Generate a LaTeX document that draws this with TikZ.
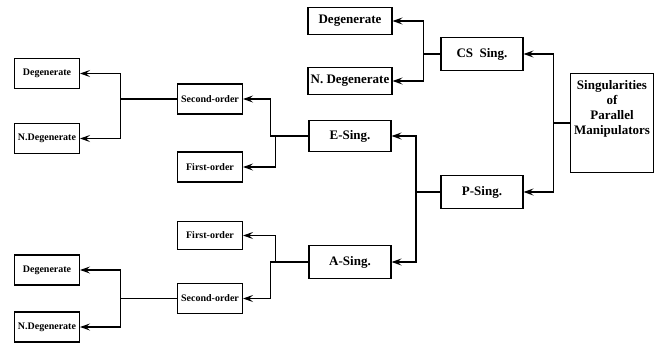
\documentclass[tikz,border=0pt]{standalone}
\usepackage{fontspec}
\setmainfont{Liberation Serif}
\usetikzlibrary{arrows.meta,calc}

\tikzset{
 elbow/.style={edge from parent path={(\tikzparentnode.west) -| ($(\tikzparentnode.west)!#1!(\tikzchildnode.east)$) |- (\tikzchildnode.east)}},
 rootbox/.style={minimum width=81pt, minimum height=99pt, align=center, font=\fontsize{13}{15}\selectfont\bfseries},
 bigbox/.style={minimum width=82pt, minimum height=33pt, font=\fontsize{13}{15}\selectfont\bfseries},
 topbox/.style={minimum width=84pt, minimum height=27pt, inner sep=1pt, font=\fontsize{13}{15}\selectfont\bfseries},
 smallbox/.style={minimum width=65pt, minimum height=30pt, inner sep=1pt, font=\fontsize{10}{12}\selectfont\bfseries}
}

\begin{document}
\begin{tikzpicture}[x=1pt, y=1pt, grow=left, every node/.style={draw, line width=1.1pt},
 edge from parent/.style={draw, line width=1.1pt, -{Stealth[length=10pt,width=7pt,inset=4pt]}}]
\useasboundingbox (0,0) rectangle (656,-346);
\node[rootbox] (sing) at (612,-123) {Singularities\\of\\Parallel\\Manipulators\\\rule{0pt}{28pt}}
 [level distance=130pt, sibling distance=138pt, elbow=.5]
child {node[bigbox] (cs) {CS\enspace Sing.} [level distance=132pt, sibling distance=60pt, elbow=.35]
child[yshift=3pt] {node[topbox] (csdeg) {Degenerate}}
child[yshift=3pt] {node[topbox] (csndeg) {N. Degenerate}}
}
child {node[bigbox] (ps) {P-Sing.} [level distance=132pt, sibling distance=126pt, elbow=.35]
child[yshift=-7pt] {node[bigbox, minimum height=31pt] (es) {E-Sing.} [level distance=140pt, sibling distance=68pt, elbow=.5]
child[yshift=3pt] {node[smallbox] (esec) {Second-order} [level distance=163pt, sibling distance=65pt, elbow=.58]
child[yshift=-7pt] {node[smallbox] (esecdeg) {Degenerate}}
child[yshift=-7pt] {node[smallbox] (esecndeg) {N.Degenerate}}
}
child[yshift=3pt] {node[smallbox] (efirst) {First-order}}
}
child[yshift=-7pt] {node[bigbox] (as) {A-Sing.} [level distance=140pt, sibling distance=63pt, elbow=.5]
child[yshift=-5pt] {node[smallbox, minimum height=28pt] (afirst) {First-order}}
child[yshift=-5pt] {node[smallbox] (asec) {Second-order} [level distance=163pt, sibling distance=57pt, elbow=.58]
child {node[smallbox] (asecdeg) {Degenerate}}
child {node[smallbox] (asecndeg) {N.Degenerate}}
}
}
};
\end{tikzpicture}
\end{document}
